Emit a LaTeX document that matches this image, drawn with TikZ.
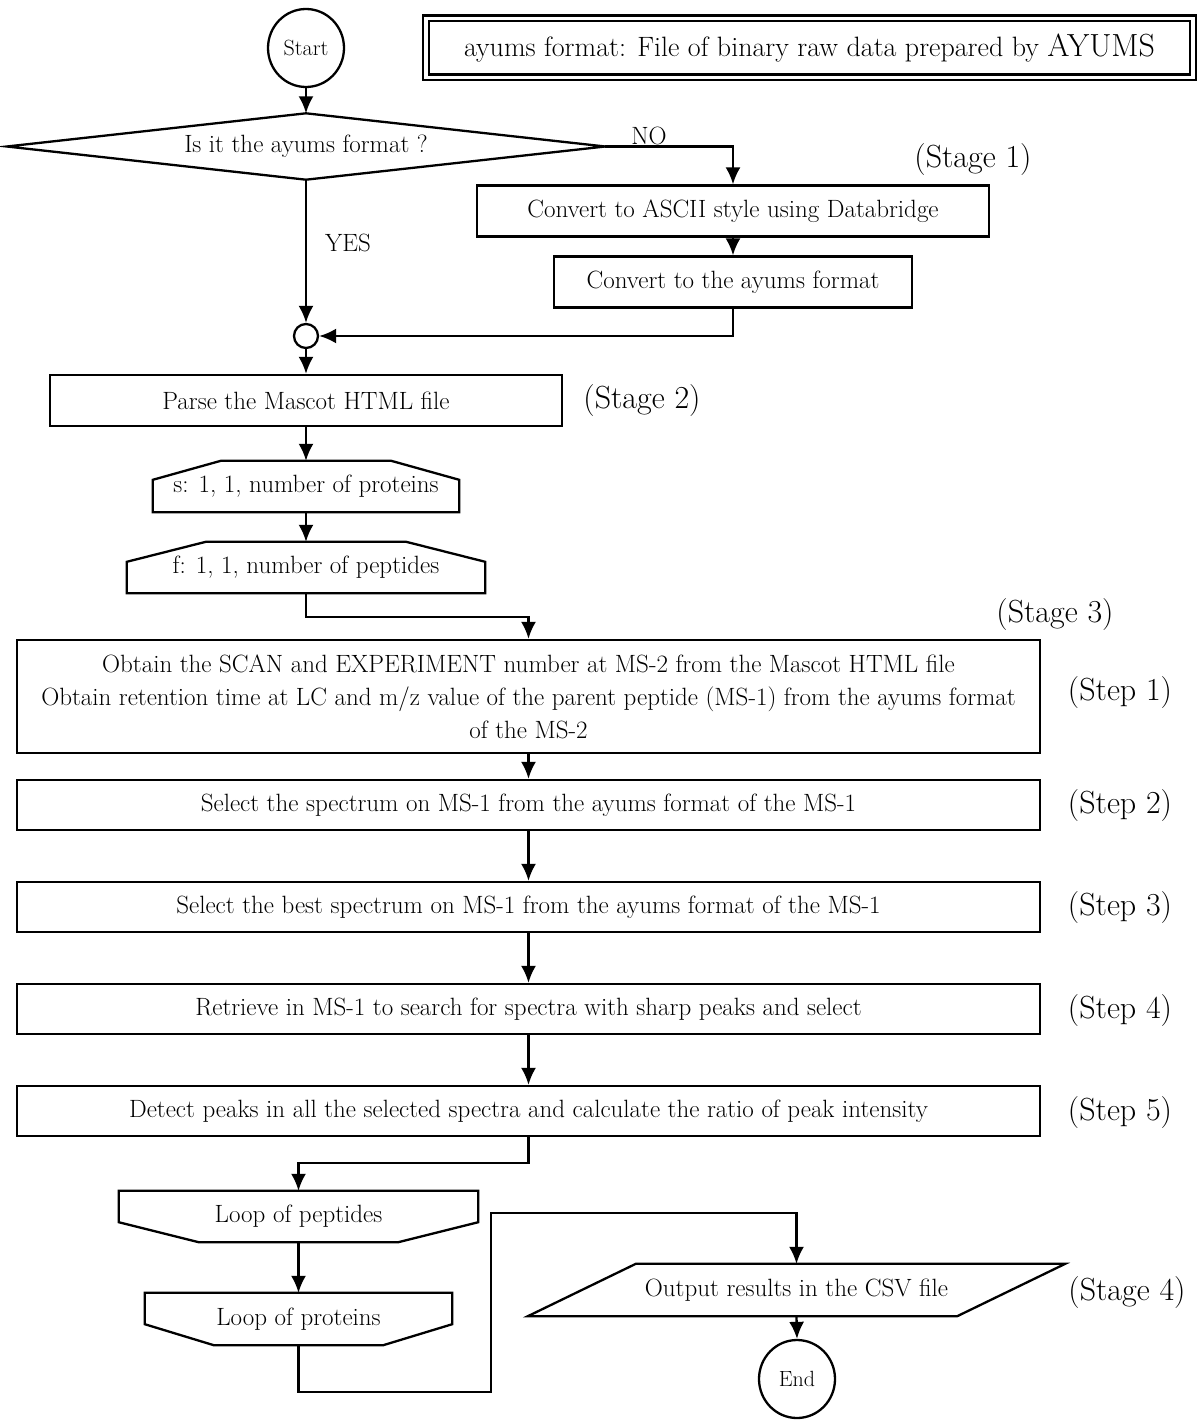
\documentclass[tikz,border=0pt]{standalone}
\usetikzlibrary{arrows.meta,shapes.geometric}
\begin{document}
\begin{tikzpicture}[x=1pt,y=-1pt,
  line/.style={line width=2.3pt,line join=miter},
  arr/.style={line width=2.3pt,-{Latex[length=17pt,width=15pt]}},
  txt/.style={font=\fontsize{25}{33}\selectfont},
  box/.style={draw,line width=2.3pt,txt,inner sep=0pt,align=center},
  plain/.style={txt,inner sep=0pt,align=center},
  lbl/.style={font=\fontsize{32}{36}\selectfont,inner sep=0pt},
  yn/.style={font=\fontsize{25}{28}\selectfont,inner sep=0pt},
  oval/.style={draw,ellipse,line width=2.3pt,minimum width=76pt,minimum height=78pt,inner sep=0pt,font=\fontsize{22}{24}\selectfont}
]
\fill[white] (0,0) rectangle (1200,1426);
\useasboundingbox (0,0) rectangle (1200,1426);

% title
\node[draw,line width=2.2pt,double,double distance=3.6pt,minimum width=767pt,minimum height=59pt,inner sep=0pt,font=\fontsize{28}{30}\selectfont] (title) at (809.5,48) {ayums format: File of binary raw data prepared by {\fontsize{32}{33}\selectfont AYUMS}};

% start
\node[oval] (start) at (306,48) {Start};

% decision
\node[plain,minimum width=598pt,minimum height=66pt] (q) at (306,146.5) {Is it the ayums format ?};
\draw[line] (q.west) -- (q.north) -- (q.east) -- (q.south) -- cycle;

% stage 1
\node[box,minimum width=512pt,minimum height=51pt] (c1) at (733,211) {Convert to ASCII style using Databridge};
\node[box,minimum width=358pt,minimum height=51pt] (c2) at (733,282) {Convert to the ayums format};
\node[yn] (no) at (649,136) {NO};
\node[yn] (yes) at (348,243) {YES};
\node[lbl] (st1) at (973,160) {(Stage 1)};

% junction
\node[draw,circle,line width=2.3pt,minimum size=24pt,inner sep=0pt] (j) at (306,336) {};

% stage 2
\node[box,minimum width=512pt,minimum height=51pt] (parse) at (306,400.5) {Parse the Mascot HTML file};
\node[lbl] (st2) at (642,401) {(Stage 2)};

\node[plain,minimum width=306pt,minimum height=51pt] (s) at (306,486.5) {s: 1, 1, number of proteins};
\draw[line] ([xshift=68pt]s.north west) -- ([xshift=-68pt]s.north east) -- ([yshift=-19pt]s.north east) -- (s.south east) -- (s.south west) -- ([yshift=-19pt]s.north west) -- cycle;

\node[plain,minimum width=358pt,minimum height=51pt] (f) at (306,567.5) {f: 1, 1, number of peptides};
\draw[line] ([xshift=79pt]f.north west) -- ([xshift=-79pt]f.north east) -- ([yshift=-20pt]f.north east) -- (f.south east) -- (f.south west) -- ([yshift=-20pt]f.north west) -- cycle;

% stage 3
\node[lbl] (st3) at (1055,615) {(Stage 3)};
\node[box,minimum width=1023pt,minimum height=113pt] (b1) at (528.5,696.5) {Obtain the SCAN and EXPERIMENT number at MS-2 from the Mascot HTML file\\Obtain retention time at LC and m/z value of the parent peptide (MS-1) from the ayums format\\of the MS-2};
\node[box,minimum width=1023pt,minimum height=50pt] (b2) at (528.5,805) {Select the spectrum on MS-1 from the ayums format of the MS-1};
\node[box,minimum width=1023pt,minimum height=50pt] (b3) at (528.5,907) {Select the best spectrum on MS-1 from the ayums format of the MS-1};
\node[box,minimum width=1023pt,minimum height=50pt] (b4) at (528.5,1009) {Retrieve in MS-1 to search for spectra with sharp peaks and select};
\node[box,minimum width=1023pt,minimum height=50pt] (b5) at (528.5,1111) {Detect peaks in all the selected spectra and calculate the ratio of peak intensity};
\node[lbl] (sp1) at (1120,693) {(Step 1)};
\node[lbl] (sp2) at (1120,806) {(Step 2)};
\node[lbl] (sp3) at (1120,908) {(Step 3)};
\node[lbl] (sp4) at (1120,1011) {(Step 4)};
\node[lbl] (sp5) at (1120,1113) {(Step 5)};

% loops
\node[plain,minimum width=359pt,minimum height=51pt] (lp) at (298.5,1216.5) {Loop of peptides};
\draw[line] (lp.north west) -- (lp.north east) -- ([yshift=20pt]lp.south east) -- ([xshift=-80pt]lp.south east) -- ([xshift=80pt]lp.south west) -- ([yshift=20pt]lp.south west) -- cycle;
\node[plain,minimum width=307pt,minimum height=52pt] (lr) at (298.5,1319) {Loop of proteins};
\draw[line] (lr.north west) -- (lr.north east) -- ([yshift=21pt]lr.south east) -- ([xshift=-69pt]lr.south east) -- ([xshift=69pt]lr.south west) -- ([yshift=21pt]lr.south west) -- cycle;

% stage 4
\node[plain,minimum width=537pt,minimum height=52pt] (out) at (796.5,1290) {Output results in the CSV file};
\draw[line] ([xshift=108pt]out.north west) -- (out.north east) -- ([xshift=-108pt]out.south east) -- (out.south west) -- cycle;
\node[lbl] (st4) at (1127,1292) {(Stage 4)};
\node[oval] (end) at (797,1379) {End};

% connectors
\draw[arr] (start.south) -- (q.north);
\draw[arr] (q.east) -| (c1.north);
\draw[arr] (c1.south) -- (c2.north);
\draw[arr] (c2.south) |- (j.east);
\draw[arr] (q.south) -- (j.north);
\draw[arr] (j.south) -- (parse.north);
\draw[arr] (parse.south) -- (s.north);
\draw[arr] (s.south) -- (f.north);
\draw[arr] (f.south) -- ++(0,24) -| (b1.north);
\draw[arr] (b1.south) -- (b2.north);
\draw[arr] (b2.south) -- (b3.north);
\draw[arr] (b3.south) -- (b4.north);
\draw[arr] (b4.south) -- (b5.north);
\draw[arr] (b5.south) -- ++(0,26) -| (lp.north);
\draw[arr] (lp.south) -- (lr.north);
\coordinate (r1) at (491,1392);
\coordinate (r2) at (491,1213);
\draw[arr] (lr.south) |- (r1) -- (r2) -| (out.north);
\draw[arr] (out.south) -- (end.north);
\end{tikzpicture}
\end{document}
